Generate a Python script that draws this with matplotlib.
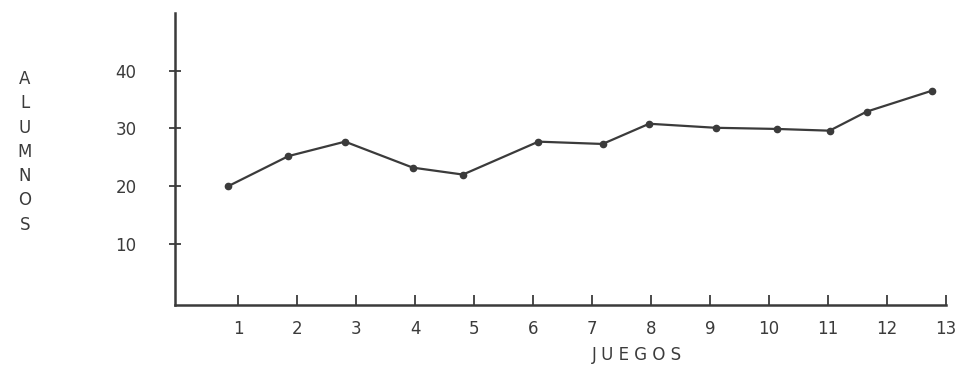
import matplotlib.pyplot as plt

# datos
juegos = list(range(1, 14))
etiquetas = [str(j) for j in juegos]
# posicion horizontal de cada punto tal como esta dibujado
posiciones = [0.83, 1.85, 2.81, 3.96, 4.81, 6.09, 7.18, 7.97, 9.1, 10.14, 11.03, 11.66, 12.76]
alumnos = [20.0, 25.2, 27.7, 23.2, 22.0, 27.7, 27.3, 30.8, 30.1, 29.9, 29.6, 32.9, 36.5]
marcas_y = [10, 20, 30, 40]

tinta = "#3b3b3b"

fig = plt.figure(figsize=(9.63, 3.68), dpi=100)
ax = fig.add_axes([0.182, 0.171, 0.800, 0.794])

ax.plot(posiciones, alumnos, color=tinta, linewidth=1.6,
        marker="o", markersize=4.5, markerfacecolor=tinta, markeredgecolor=tinta)

ax.set_xlim(-0.07, 13.0)
ax.set_ylim(-0.6, 50)

ax.set_xticks(juegos)
ax.set_xticklabels(etiquetas)
ax.set_yticks(marcas_y)
ax.set_yticklabels([str(v) for v in marcas_y])

ax.tick_params(axis="x", direction="in", length=7, width=1.3, color=tinta,
               labelsize=12, labelcolor=tinta, pad=11)
ax.tick_params(axis="y", direction="inout", length=8, width=1.3, color=tinta,
               labelsize=12, labelcolor=tinta, pad=24)

for s in ["top", "right"]:
    ax.spines[s].set_visible(False)
for s in ["left", "bottom"]:
    ax.spines[s].set_color(tinta)
    ax.spines[s].set_linewidth(1.8)

# etiquetas de los ejes
fig.text(0.026, 0.81, "\n".join("ALUMNOS"), ha="center", va="top",
         fontsize=12, color=tinta, linespacing=1.45)
fig.text(0.661, 0.012, "J U E G O S", ha="center", va="bottom",
         fontsize=12, color=tinta)

plt.savefig("out.png", dpi=100)
